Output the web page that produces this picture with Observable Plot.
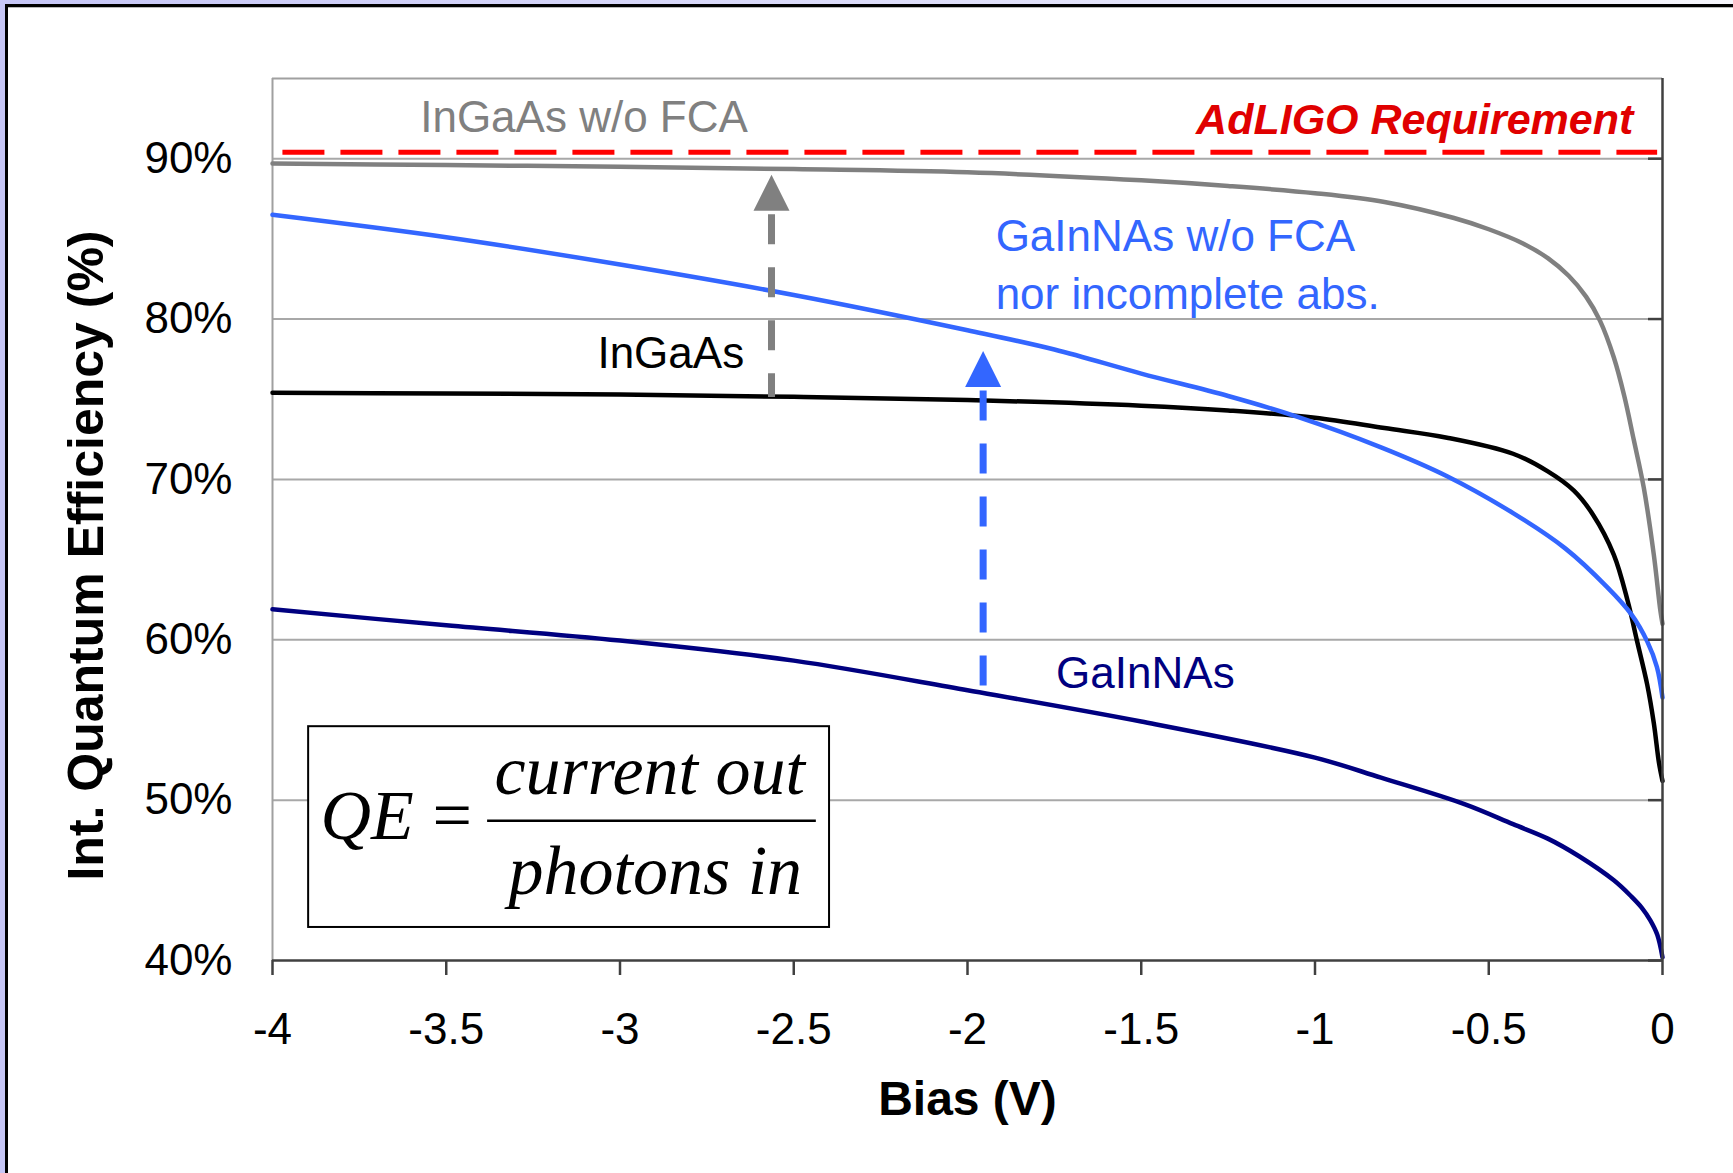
<!DOCTYPE html>
<html>
<head>
<meta charset="utf-8">
<script src="https://cdn.jsdelivr.net/npm/d3@7"></script>
<script src="https://cdn.jsdelivr.net/npm/@observablehq/plot@0.6"></script>
<style>
html, body { margin: 0; padding: 0; }
body {
  width: 1733px; height: 1173px; overflow: hidden; position: relative;
  background: linear-gradient(to right, #c6c6f6 0%, #dcdcf9 50%, #f6f6fc 100%);
  font-family: "Liberation Sans", Arial, sans-serif;
}
#panel {
  position: absolute; left: 5px; top: 4px; width: 1760px; height: 1200px;
  background: #ffffff; border-left: 3px solid #000; border-top: 3px solid #000;
  box-shadow: inset 0 1px 0 #b8b8b8;
}
#chart { position: absolute; left: 0; top: 0; }
</style>
</head>
<body>
<div id="panel"></div>
<div id="chart"></div>
<script>
// ---- data ----
const xTicks = [-4, -3.5, -3, -2.5, -2, -1.5, -1, -0.5, 0];
const yTicks = [40, 50, 60, 70, 80, 90];
const gridTicks = [50, 60, 70, 80, 90];

// InGaAs w/o FCA (gray)
const ingaasNoFcaBias = [-4, -3.5, -3, -2.5, -2, -1.5, -1.25, -1, -0.8, -0.6, -0.5, -0.4, -0.33, -0.27, -0.22, -0.18, -0.14, -0.11, -0.083, -0.054, -0.025, -0.006, 0];
const ingaasNoFcaQE   = [89.7, 89.6, 89.5, 89.35, 89.15, 88.65, 88.3, 87.85, 87.3, 86.3, 85.6, 84.7, 83.8, 82.7, 81.4, 79.9, 77.6, 75.2, 72.5, 69.5, 65.3, 61.8, 61.0];

// InGaAs (black)
const ingaasBias = [-4, -3.5, -3, -2.5, -2, -1.5, -1.25, -1, -0.8, -0.62, -0.43, -0.33, -0.255, -0.2, -0.14, -0.1, -0.073, -0.044, -0.025, -0.01, 0];
const ingaasQE   = [75.4, 75.35, 75.3, 75.15, 74.95, 74.6, 74.3, 73.85, 73.2, 72.6, 71.6, 70.5, 69.3, 67.8, 65.3, 62.4, 59.9, 57.2, 54.8, 52.3, 51.2];

// GaInNAs w/o FCA nor incomplete abs. (blue)
const gainnasIdealBias = [-4, -3.5, -3, -2.5, -2, -1.75, -1.5, -1.25, -1.05, -0.81, -0.62, -0.43, -0.28, -0.16, -0.09, -0.044, -0.016, 0];
const gainnasIdealQE   = [86.5, 85.1, 83.4, 81.5, 79.3, 78.1, 76.6, 75.2, 73.9, 72.0, 70.2, 67.9, 65.7, 63.3, 61.6, 59.9, 58.3, 56.4];

// GaInNAs (navy)
const gainnasBias = [-4, -3.5, -3, -2.5, -2, -1.5, -1, -0.81, -0.57, -0.43, -0.33, -0.24, -0.14, -0.09, -0.06, -0.035, -0.015, 0];
const gainnasQE   = [61.9, 60.9, 59.95, 58.7, 56.85, 54.9, 52.65, 51.4, 49.75, 48.5, 47.6, 46.5, 45.0, 44.0, 43.3, 42.5, 41.6, 40.2];

// AdLIGO requirement level
const requirementQE = 90.4;
const requirementSpan = [-3.97, -0.014];

// improvement arrows: bias, start (lower curve), tip
const arrowBias = [-2.564, -1.955];
const arrowFrom = [75.1, 56.7];
const arrowTo   = [89.0, 78.0];
const arrowColor = ["#808080", "#3366ff"];

// curve labels
const labelText  = ["InGaAs w/o FCA", "InGaAs", "GaInNAs w/o FCA", "nor incomplete abs.", "GaInNAs"];
const labelBias  = [-3.575, -3.065, -1.919, -1.919, -1.745];
const labelQE    = [91.65, 76.97, 84.24, 80.6, 57.0];
const labelColor = ["#808080", "#000000", "#3366ff", "#3366ff", "#000080"];

// formula inset (bias / QE coordinates)
const formulaBox = {x1: -3.896, x2: -2.397, y1: 42.06, y2: 54.58};
const fractionBar = {x1: -3.381, x2: -2.435, y: 48.72};
const formulaText = ["QE", "=", "current out", "photons in"];
const formulaBias = [-3.862, -3.483, -3.361, -3.321];
const formulaQE   = [47.55, 47.55, 50.4, 44.17];
const formulaAnchor = ["start", "middle", "start", "start"];

// ---- build tables ----
const series = [
  {name: "InGaAs w/o FCA", color: "#808080", bias: ingaasNoFcaBias, qe: ingaasNoFcaQE},
  {name: "InGaAs", color: "#000000", bias: ingaasBias, qe: ingaasQE},
  {name: "GaInNAs w/o FCA", color: "#3366ff", bias: gainnasIdealBias, qe: gainnasIdealQE},
  {name: "GaInNAs", color: "#000080", bias: gainnasBias, qe: gainnasQE}
];
const labels = labelText.map((t, i) => ({text: t, x: labelBias[i], y: labelQE[i], color: labelColor[i]}));
const formula = formulaText.map((t, i) => ({text: t, x: formulaBias[i], y: formulaQE[i], anchor: formulaAnchor[i]}));

const headSymbol = {
  draw(context) {
    context.moveTo(0, 0);
    context.lineTo(18, 36);
    context.lineTo(-18, 36);
    context.closePath();
  }
};

const marks = [
  Plot.gridY(gridTicks, {stroke: "#a8a8a8", strokeOpacity: 1, strokeWidth: 2}),
  Plot.ruleY([95], {stroke: "#a0a0a0", strokeWidth: 2}),
  Plot.ruleX([-4], {stroke: "#a0a0a0", strokeWidth: 2}),
  Plot.ruleY([requirementQE], {x1: requirementSpan[0], x2: requirementSpan[1], stroke: "#ff0000", strokeWidth: 5, strokeDasharray: "42,16"}),
  Plot.rect([formulaBox], {x1: "x1", x2: "x2", y1: "y1", y2: "y2", fill: "#ffffff", stroke: "#000000", strokeWidth: 2})
];

for (const s of series) {
  const data = s.bias.map((b, i) => ({bias: b, qe: s.qe[i]}));
  marks.push(Plot.line(data, {x: "bias", y: "qe", stroke: s.color, strokeWidth: 4.5, curve: "catmull-rom"}));
}

arrowBias.forEach((b, i) => {
  const a = [{bias: b, from: arrowFrom[i], to: arrowTo[i]}];
  marks.push(Plot.ruleX(a, {x: "bias", y1: "to", y2: "from", insetTop: 40, stroke: arrowColor[i], strokeWidth: 7, strokeDasharray: "30,23"}));
  marks.push(Plot.dot(a, {x: "bias", y: "to", r: 10, symbol: headSymbol, fill: arrowColor[i], stroke: "none"}));
});

marks.push(
  Plot.ruleY([fractionBar], {x1: "x1", x2: "x2", y: "y", stroke: "#000000", strokeWidth: 2.5}),
  Plot.text(formula, {x: "x", y: "y", text: "text", textAnchor: "start", lineAnchor: "bottom",
    filter: d => d.anchor === "start", fontFamily: "Liberation Serif, Times New Roman, serif", fontStyle: "italic", fontSize: 70, fill: "#000"}),
  Plot.text(formula, {x: "x", y: "y", text: "text", textAnchor: "middle", lineAnchor: "bottom",
    filter: d => d.anchor === "middle", fontFamily: "Liberation Serif, Times New Roman, serif", fontSize: 70, fill: "#000"}),
  Plot.text(labels, {x: "x", y: "y", text: "text", fill: "color", textAnchor: "start", lineAnchor: "bottom", fontSize: 44}),
  Plot.text(["AdLIGO Requirement"], {x: requirementSpan[1] - 0.07, y: 91.53, textAnchor: "end", lineAnchor: "bottom",
    fontSize: 43, fontWeight: "bold", fontStyle: "italic", fill: "#e00000"}),
  Plot.ruleX([0], {stroke: "#404040", strokeWidth: 2.5}),
  Plot.ruleY([40], {stroke: "#404040", strokeWidth: 2.5}),
  Plot.axisX({ticks: xTicks, tickSize: 15, tickPadding: 37, tickFormat: d => String(d), stroke: "#404040", strokeWidth: 2.5, fontSize: 44, fill: "#000", label: null}),
  Plot.axisY({ticks: yTicks, tickSize: 0, tickPadding: 40, tickFormat: d => d + "%", fontSize: 44, fill: "#000", label: null}),
  Plot.axisY({anchor: "right", ticks: yTicks, tickSize: 15, dx: -15, tickFormat: () => "", stroke: "#404040", strokeWidth: 2.5, label: null}),
  Plot.text(["Bias (V)"], {frameAnchor: "bottom", dy: 154, lineAnchor: "bottom", fontSize: 48, fontWeight: "bold", fill: "#000"}),
  Plot.text(["Int. Quantum Efficiency (%)"], {frameAnchor: "left", dx: -186, dy: 36, rotate: -90, textAnchor: "middle", lineAnchor: "middle", fontSize: 50, fontWeight: "bold", fill: "#000"})
);

const chart = Plot.plot({
  width: 1733,
  height: 1173,
  marginLeft: 272,
  marginRight: 71,
  marginTop: 78,
  marginBottom: 213,
  x: {domain: [-4, 0]},
  y: {domain: [40, 95]},
  style: {background: "none", fontFamily: "Liberation Sans, Arial, sans-serif", fontSize: "44px", color: "#000", overflow: "visible"},
  marks
});
document.getElementById("chart").appendChild(chart);
</script>
</body>
</html>
